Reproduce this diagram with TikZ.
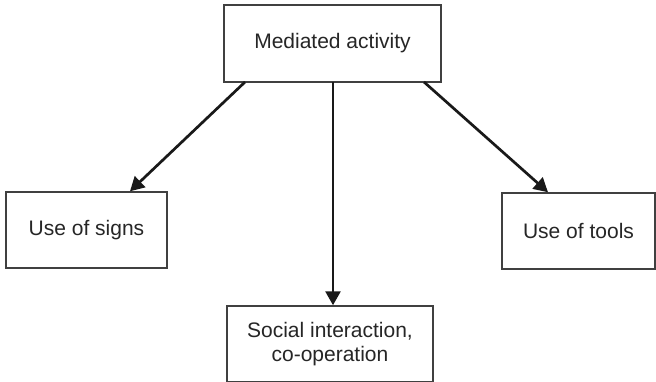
\documentclass[tikz,border=0pt]{standalone}
\usepackage{fontspec}
\setmainfont{Liberation Sans}
\usetikzlibrary{arrows.meta}
\begin{document}
\begin{tikzpicture}[x=1pt,y=-1pt,
  box/.style={draw=black!75,line width=1.5pt,fill=white,inner sep=0pt,align=center,
    font=\fontsize{21}{24}\selectfont,text=black!85},
  arr/.style={line width=2.7pt,draw=black!90,-{Triangle[length=14pt,width=15pt]}}]
\useasboundingbox (0,0) rectangle (656,382);
\node[box,minimum width=217pt,minimum height=77pt] (top) at (332.5,43.5) {Mediated activity};
\node[box,minimum width=161pt,minimum height=76pt] (signs) at (86.5,230) {Use of signs};
\node[box,minimum width=153pt,minimum height=76pt] (tools) at (578.5,231) {Use of tools};
\node[box,minimum width=206pt,minimum height=76pt] (social) at (330,344) {Social interaction,\\co-operation};
\coordinate (a1) at (245,82);
\coordinate (a2) at (333,82);
\coordinate (a3) at (424,82);
\draw[arr] (a1) -- (signs.north -| 130,0);
\draw[arr] (a2) -- (social.north -| 333,0);
\draw[arr] (a3) -- (tools.north -| 548,0);
\end{tikzpicture}
\end{document}
